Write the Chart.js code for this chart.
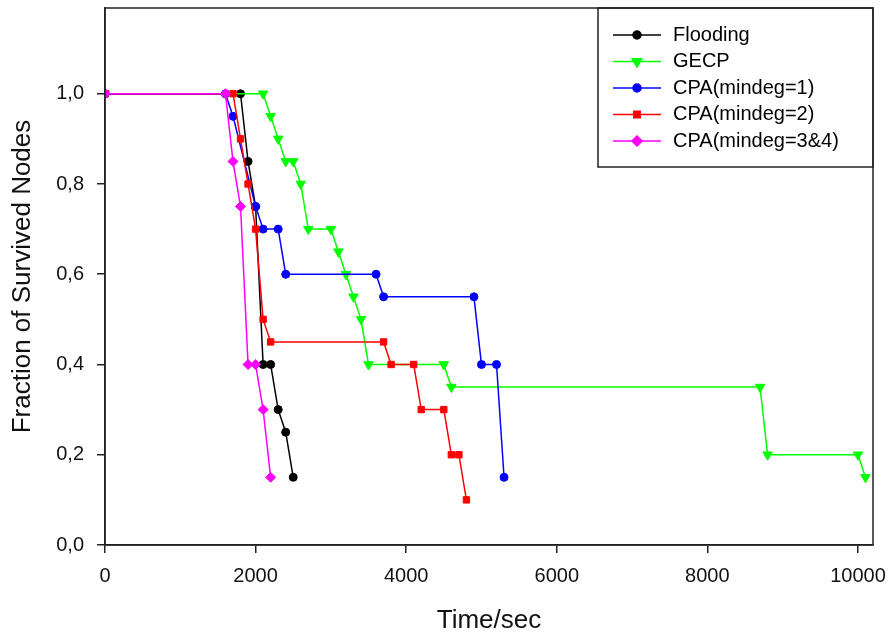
<!DOCTYPE html>
<html>
<head>
<meta charset="utf-8">
<script src="https://cdn.jsdelivr.net/npm/chart.js@4.4.1/dist/chart.umd.min.js"></script>
<style>
  html, body { margin: 0; padding: 0; background: #fff; }
  #wrap { width: 890px; height: 636px; }
</style>
</head>
<body>
<div id="wrap"><canvas id="survChart" width="890" height="636"></canvas></div>
<script>
const FONT = '"Liberation Sans", Arial, sans-serif';

const seriesNames = ['Flooding', 'GECP', 'CPA(mindeg=1)', 'CPA(mindeg=2)', 'CPA(mindeg=3&4)'];

const floodingTime = [0, 1800, 1900, 2000, 2100, 2200, 2300, 2400, 2500];
const floodingFrac = [1.0, 1.0, 0.85, 0.75, 0.40, 0.40, 0.30, 0.25, 0.15];

const gecpTime = [0, 2100, 2200, 2300, 2400, 2500, 2600, 2700, 3000, 3100, 3200, 3300, 3400, 3500, 4500, 4600, 8700, 8800, 10000, 10100];
const gecpFrac = [1.0, 1.0, 0.95, 0.90, 0.85, 0.85, 0.80, 0.70, 0.70, 0.65, 0.60, 0.55, 0.50, 0.40, 0.40, 0.35, 0.35, 0.20, 0.20, 0.15];

const cpa1Time = [0, 1600, 1700, 2000, 2100, 2300, 2400, 3600, 3700, 4900, 5000, 5200, 5300];
const cpa1Frac = [1.0, 1.0, 0.95, 0.75, 0.70, 0.70, 0.60, 0.60, 0.55, 0.55, 0.40, 0.40, 0.15];

const cpa2Time = [0, 1700, 1800, 1900, 2000, 2100, 2200, 3700, 3800, 4100, 4200, 4500, 4600, 4700, 4800];
const cpa2Frac = [1.0, 1.0, 0.90, 0.80, 0.70, 0.50, 0.45, 0.45, 0.40, 0.40, 0.30, 0.30, 0.20, 0.20, 0.10];

const cpa34Time = [0, 1600, 1700, 1800, 1900, 2000, 2100, 2200];
const cpa34Frac = [1.0, 1.0, 0.85, 0.75, 0.40, 0.40, 0.30, 0.15];

const xTicks = [0, 2000, 4000, 6000, 8000, 10000];
const yTicks = [0, 0.2, 0.4, 0.6, 0.8, 1.0];

function pairs(xs, ys) {
  return xs.map((x, i) => ({ x: x, y: ys[i] }));
}

function series(idx, xs, ys, color, style, radius, rotation, order) {
  return {
    label: seriesNames[idx],
    data: pairs(xs, ys),
    borderColor: color,
    backgroundColor: color,
    pointBackgroundColor: color,
    pointBorderColor: color,
    pointStyle: style,
    pointRadius: radius,
    pointRotation: rotation,
    pointBorderWidth: 1,
    borderWidth: 1.5,
    tension: 0,
    fill: false,
    order: order
  };
}

// frame around the plot + boxed legend in the top-right corner
const frameLegend = {
  id: 'frameLegend',
  afterDraw(chart) {
    const ctx = chart.ctx;
    const a = chart.chartArea;
    ctx.save();
    ctx.strokeStyle = '#222';
    ctx.lineWidth = 1.5;
    ctx.strokeRect(a.left, a.top, a.right - a.left, a.bottom - a.top);

    const lx = 598, lh = 159;
    ctx.strokeRect(lx, a.top, a.right - lx, lh);

    ctx.font = '20px ' + FONT;
    ctx.textBaseline = 'middle';
    ctx.textAlign = 'left';
    chart.data.datasets.forEach((ds, i) => {
      const y = 35 + i * 26.5;
      ctx.strokeStyle = ds.borderColor;
      ctx.fillStyle = ds.borderColor;
      ctx.lineWidth = 1.5;
      ctx.beginPath();
      ctx.moveTo(613, y);
      ctx.lineTo(661, y);
      ctx.stroke();
      Chart.helpers.drawPoint(ctx, {
        pointStyle: ds.pointStyle,
        radius: ds.pointRadius,
        rotation: ds.pointRotation,
        borderWidth: 1
      }, 637, y);
      ctx.fillStyle = '#000';
      ctx.fillText(ds.label, 673, y);
    });
    ctx.restore();
  }
};

let ctx = document.getElementById('survChart').getContext('2d');
let survChart = new Chart(ctx, {
  type: 'line',
  data: {
    datasets: [
      series(0, floodingTime, floodingFrac, '#000000', 'circle', 4, 0, 4),
      series(1, gecpTime, gecpFrac, '#00ff00', 'triangle', 5.5, 180, 3),
      series(2, cpa1Time, cpa1Frac, '#0000ff', 'circle', 4, 0, 2),
      series(3, cpa2Time, cpa2Frac, '#ff0000', 'rect', 4.5, 0, 1),
      series(4, cpa34Time, cpa34Frac, '#ff00ff', 'rectRot', 5, 0, 0)
    ]
  },
  options: {
    responsive: false,
    animation: false,
    layout: {
      padding: { left: 0, right: 17, top: 8, bottom: 0 }
    },
    plugins: {
      legend: { display: false },
      tooltip: { enabled: false }
    },
    scales: {
      x: {
        type: 'linear',
        min: 0,
        max: 10200,
        afterBuildTicks: (scale) => { scale.ticks = xTicks.map(v => ({ value: v })); },
        afterFit: (scale) => {
          scale.height = 91;
          scale.paddingLeft = 0;
          scale.paddingRight = 0;
        },
        grid: { drawOnChartArea: false, drawTicks: true, tickLength: 8, color: '#222', lineWidth: 1.5 },
        border: { display: true, color: '#222', width: 1.5 },
        ticks: {
          padding: 11,
          maxRotation: 0,
          color: '#111',
          font: { family: FONT, size: 20 },
          callback: (v) => String(v)
        },
        title: {
          display: true,
          text: 'Time/sec',
          color: '#111',
          font: { family: FONT, size: 26 },
          padding: { top: 0, bottom: 0 }
        }
      },
      y: {
        min: 0,
        max: 1.19,
        afterBuildTicks: (scale) => { scale.ticks = yTicks.map(v => ({ value: v })); },
        afterFit: (scale) => {
          scale.width = 105;
          scale.paddingTop = 0;
          scale.paddingBottom = 0;
        },
        grid: { drawOnChartArea: false, drawTicks: true, tickLength: 8, color: '#222', lineWidth: 1.5 },
        border: { display: true, color: '#222', width: 1.5 },
        ticks: {
          padding: 13,
          color: '#111',
          font: { family: FONT, size: 20 },
          callback: (v) => v.toFixed(1).replace('.', ',')
        },
        title: {
          display: true,
          text: 'Fraction of Survived Nodes',
          color: '#111',
          font: { family: FONT, size: 26 },
          padding: { top: 7, bottom: 0 }
        }
      }
    }
  },
  plugins: [frameLegend]
});
</script>
</body>
</html>
